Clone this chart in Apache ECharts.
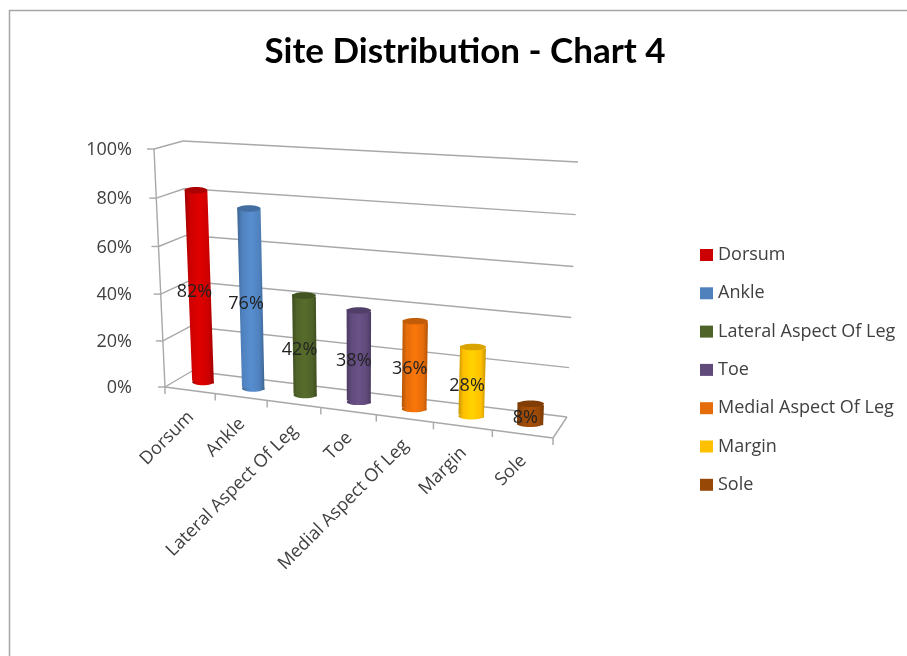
<!DOCTYPE html>
<html>
<head>
<meta charset="utf-8">
<style>html,body{margin:0;padding:0;background:#fff}#chart{width:907px;height:656px;filter:blur(.45px)}</style>
<script src="https://cdn.jsdelivr.net/npm/echarts@6/dist/echarts.min.js"></script>
</head>
<body>
<div id="chart"></div>
<script>
const titleText = 'Site Distribution - Chart 4';
const categories = ['Dorsum','Ankle','Lateral Aspect Of Leg','Toe','Medial Aspect Of Leg','Margin','Sole'];
const values = [82,76,42,38,36,28,8];
const colors = ['#CC0000','#4F81BD','#4F6228','#604A7B','#E46C0A','#FFC000','#974806'];
const yTicks = [0,20,40,60,80,100];

const FONT = 'Open Sans';
const LINE = '#a8a8a8';
// Picture-plane corners of the 3D box: [front/back][bottom/top][left/right]
const C = {
  fbl:[165,387], fbr:[553,438], ftl:[154,149], ftr:[565,172],
  bbl:[192,371], bbr:[567,417], btl:[183,141], btr:[578,162]
};
function lerp(a,b,t){return [a[0]+(b[0]-a[0])*t, a[1]+(b[1]-a[1])*t];}
function project(u,v,w){
  const uu = u-0.11*u*(1-u), vv = v-0.04*v*(1-v);
  const fb = lerp(C.fbl,C.fbr,uu), ft = lerp(C.ftl,C.ftr,uu);
  const bb = lerp(C.bbl,C.bbr,uu), bt = lerp(C.btl,C.btr,uu);
  return lerp(lerp(fb,ft,vv), lerp(bb,bt,vv), w);
}
function norm(params,api,cat,val){
  const cs = params.coordSys, p = api.coord([cat,val]);
  return [(p[0]-cs.x)/cs.width, (cs.y+cs.height-p[1])/cs.height];
}
function shade(hex,k){
  const n = parseInt(hex.slice(1),16);
  const f = c => Math.max(0,Math.min(255,Math.round(c*k)));
  return 'rgb('+f(n>>16)+','+f((n>>8)&255)+','+f(n&255)+')';
}
function seg(a,b,width){
  return {type:'line',shape:{x1:a[0],y1:a[1],x2:b[0],y2:b[1]},style:{stroke:LINE,lineWidth:width||1.4}};
}
function renderWall(params,api){
  const tick = api.value(0);
  const n = norm(params,api,0,tick);
  const v = n[1];
  const f = project(0,v,0), b = project(0,v,1), r = project(1,v,1);
  const kids = [seg(f,b),seg(b,r),seg([f[0]-7,f[1]],f),
    {type:'text',x:132,y:f[1]+1,style:{text:tick+'%',align:'right',verticalAlign:'middle',fontFamily:FONT,fontSize:18,fill:'#404040'}}];
  if(v<0.001){
    kids.push(seg(project(0,0,0),project(0,1,0)));
    kids.push(seg(project(0,0,0),project(1,0,0)));
    kids.push(seg(project(1,0,0),project(1,0,1)));
    kids.push(seg(project(0,0,0),[project(0,0,0)[0],project(0,0,0)[1]+7]));
  }
  return {type:'group',children:kids};
}
function renderXAxis(params,api){
  const i = api.value(0);
  const cs = params.coordSys;
  const c = norm(params,api,i,0);
  const band = api.size([1,0])[0]/cs.width;
  const t = project(c[0]+band/2,0,0);
  const m = project(c[0],0,0);
  return {type:'group',children:[
    seg(t,[t[0],t[1]+7]),
    {type:'text',x:m[0]+1,y:m[1]+24,rotation:Math.PI/4,
     style:{text:categories[i],align:'right',verticalAlign:'middle',fontFamily:FONT,fontSize:18,fill:'#404040'}}
  ]};
}
function renderBar(params,api){
  const i = api.value(0), val = api.value(1), color = colors[i];
  const cs = params.coordSys;
  const n = norm(params,api,i,val);
  const d = 0.22*api.size([1,0])[0]/cs.width;
  const w = 0.5, ry = 3.2;
  const bl = project(n[0]-d,0,w), br = project(n[0]+d,0,w);
  const tl = project(n[0]-d,n[1],w), tr = project(n[0]+d,n[1],w);
  const grad = new echarts.graphic.LinearGradient(0,0,1,0,[
    {offset:0,color:shade(color,0.78)},{offset:0.18,color:color},
    {offset:0.5,color:shade(color,1.1)},{offset:0.82,color:color},{offset:1,color:shade(color,0.78)}]);
  const cTop = [(tl[0]+tr[0])/2,(tl[1]+tr[1])/2], cBot = [(bl[0]+br[0])/2,(bl[1]+br[1])/2];
  const mid = project(n[0],n[1]/2,w);
  return {type:'group',children:[
    {type:'ellipse',shape:{cx:cBot[0],cy:cBot[1],rx:(br[0]-bl[0])/2,ry:ry},style:{fill:grad}},
    {type:'polygon',shape:{points:[tl,tr,br,bl]},style:{fill:grad}},
    {type:'ellipse',shape:{cx:cTop[0],cy:cTop[1],rx:(tr[0]-tl[0])/2,ry:ry},style:{fill:shade(color,0.85)}},
    {type:'text',x:mid[0]-5,y:mid[1]+4,
     style:{text:val+'%',align:'center',verticalAlign:'middle',fontFamily:FONT,fontSize:18,fill:'#222'}}
  ]};
}
const series = [
  {type:'custom',name:'walls',data:yTicks.map(t=>[t]),encode:{x:-1,y:0},renderItem:renderWall,clip:false,z:1,silent:true},
  {type:'custom',name:'xaxis',data:categories.map((c,i)=>[i]),encode:{x:0,y:-1},renderItem:renderXAxis,clip:false,z:1,silent:true}
];
categories.forEach((c,i)=>{
  series.push({type:'custom',name:c,data:[[i,values[i]]],encode:{x:0,y:1},renderItem:renderBar,clip:false,
    z:2,silent:true,itemStyle:{color:colors[i]}});
});
const chart = echarts.init(document.getElementById('chart'),null,{renderer:'canvas'});
chart.setOption({
  animation:false,
  backgroundColor:'#fff',
  title:{text:titleText,left:460,top:29,textAlign:'center',textStyle:{fontFamily:'Lato',fontWeight:'bold',fontSize:35,color:'#000'}},
  legend:{data:categories,orient:'vertical',left:695,top:241,itemWidth:13,itemHeight:12,itemGap:20.3,icon:'rect',selectedMode:false,
    textStyle:{fontFamily:FONT,fontSize:18,color:'#404040'}},
  grid:{left:140,top:149,width:420,height:239},
  xAxis:{type:'category',data:categories,show:false},
  yAxis:{type:'value',min:0,max:100,interval:20,show:false},
  graphic:[{type:'rect',shape:{x:9.5,y:10.5,width:1200,height:1200},style:{fill:'none',stroke:'#a6a6a6',lineWidth:1.5},silent:true,z:-1}],
  series:series
});
</script>
</body>
</html>
